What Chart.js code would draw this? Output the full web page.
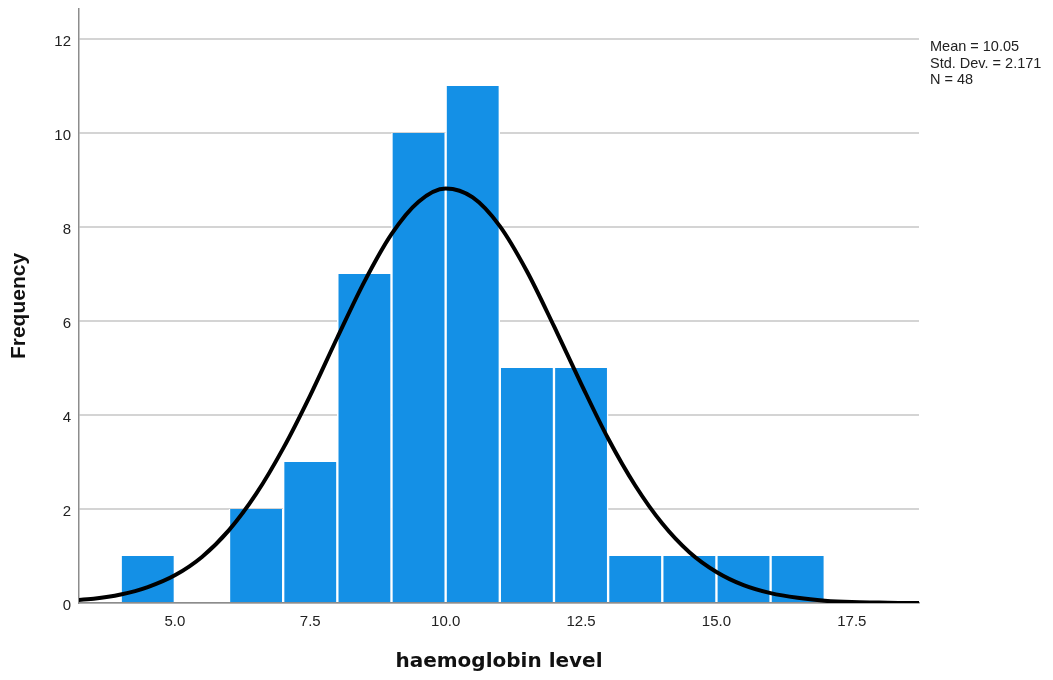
<!DOCTYPE html>
<html>
<head>
<meta charset="utf-8">
<title>haemoglobin level histogram</title>
<script src="https://cdn.jsdelivr.net/npm/chart.js@4.4.1/dist/chart.umd.min.js"></script>
<style>
    html, body { margin: 0; padding: 0; background: #fff; }
    #wrap { position: relative; width: 1053px; height: 680px; }
    #stats {
        position: absolute;
        left: 930px;
        top: 38px;
        font: 14.5px "Liberation Sans", Arial, sans-serif;
        line-height: 16.5px;
        color: #222;
        white-space: nowrap;
    }
</style>
</head>
<body>
<div id="wrap">
    <canvas id="hist" width="1053" height="680"></canvas>
    <div id="stats"></div>
</div>
<script>
// histogram bins (width 1) and counts
const binCenters = [4.5, 5.5, 6.5, 7.5, 8.5, 9.5, 10.5, 11.5, 12.5, 13.5, 14.5, 15.5, 16.5];
const binCounts  = [1,   0,   2,   3,   7,   10,  11,   5,    5,    1,    1,    1,    1];

// fitted normal curve, every 0.5
const curveX = [3.0, 3.5, 4.0, 4.5, 5.0, 5.5, 6.0, 6.5, 7.0, 7.5, 8.0, 8.5, 9.0, 9.5,
                10.0, 10.5, 11.0, 11.5, 12.0, 12.5, 13.0, 13.5, 14.0, 14.5, 15.0,
                15.5, 16.0, 16.5, 17.0, 17.5, 18.0, 18.5, 19.0];
const curveY = [0.05, 0.09, 0.18, 0.34, 0.59, 0.98, 1.55, 2.32, 3.29, 4.42, 5.65, 6.84, 7.85, 8.54,
                8.82, 8.63, 8.02, 7.06, 5.89, 4.67, 3.50, 2.50, 1.69, 1.08, 0.66,
                0.38, 0.21, 0.11, 0.05, 0.02, 0.01, 0.00, 0.00];

const xTicks = [5.0, 7.5, 10.0, 12.5, 15.0, 17.5];
const yTicks = [0, 2, 4, 6, 8, 10, 12];
const xRange = [3.23, 18.74];
const yRange = [0, 12.64];

const xTitle = "haemoglobin level";
const yTitle = "Frequency";
const statsLines = ["Mean = 10.05", "Std. Dev. = 2.171", "N = 48"];

document.getElementById("stats").innerHTML = statsLines.join("<br>");

const tickFont = { family: "'Liberation Sans', Arial, sans-serif", size: 15 };

new Chart(document.getElementById("hist"), {
    type: "bar",
    data: {
        datasets: [
            {
                type: "line",
                label: "Normal",
                data: curveX.map((x, i) => ({ x: x, y: curveY[i] })),
                borderColor: "#000",
                borderWidth: 4,
                pointRadius: 0,
                cubicInterpolationMode: "monotone",
                fill: false,
                clip: 0,
                order: 0,
            },
            {
                label: "Frequency",
                data: binCenters.map((x, i) => ({ x: x, y: binCounts[i] })),
                backgroundColor: "#1490e6",
                borderColor: "#ffffff",
                borderWidth: { left: 1.5, right: 1.5, top: 0, bottom: 0 },
                barPercentage: 1,
                categoryPercentage: 1,
                order: 1,
            },
        ],
    },
    options: {
        responsive: false,
        animation: false,
        layout: { padding: { left: 0, right: 134, top: 9, bottom: 0 } },
        plugins: {
            legend: { display: false },
            tooltip: { enabled: false },
        },
        scales: {
            x: {
                type: "linear",
                offset: false,
                min: xRange[0],
                max: xRange[1],
                afterBuildTicks: s => { s.ticks = xTicks.map(v => ({ value: v })); },
                afterFit: s => { s.height = 77; s.paddingLeft = 0; s.paddingRight = 0; },
                ticks: {
                    font: tickFont,
                    color: "#222",
                    padding: 10,
                    callback: v => v.toFixed(1),
                },
                grid: { display: false, drawTicks: false },
                border: { display: true, color: "#8c8c8c", width: 1.5 },
                title: {
                    display: true,
                    text: xTitle,
                    color: "#111",
                    font: { family: "'DejaVu Sans', sans-serif", size: 20, weight: "bold" },
                    padding: { top: 0, bottom: 6 },
                },
            },
            y: {
                min: yRange[0],
                max: yRange[1],
                afterBuildTicks: s => { s.ticks = yTicks.map(v => ({ value: v })); },
                afterFit: s => { s.width = 79; s.paddingTop = 0; s.paddingBottom = 0; },
                ticks: {
                    font: tickFont,
                    color: "#222",
                    padding: 8,
                    labelOffset: 3,
                },
                grid: { color: "#d4d4d4", lineWidth: 2, drawTicks: false },
                border: { display: true, color: "#8c8c8c", width: 1.5 },
                title: {
                    display: true,
                    text: yTitle,
                    color: "#111",
                    font: { family: "'Liberation Sans', Arial, sans-serif", size: 21, weight: "bold" },
                    padding: { top: 7, bottom: 0 },
                },
            },
        },
    },
});
</script>
</body>
</html>
